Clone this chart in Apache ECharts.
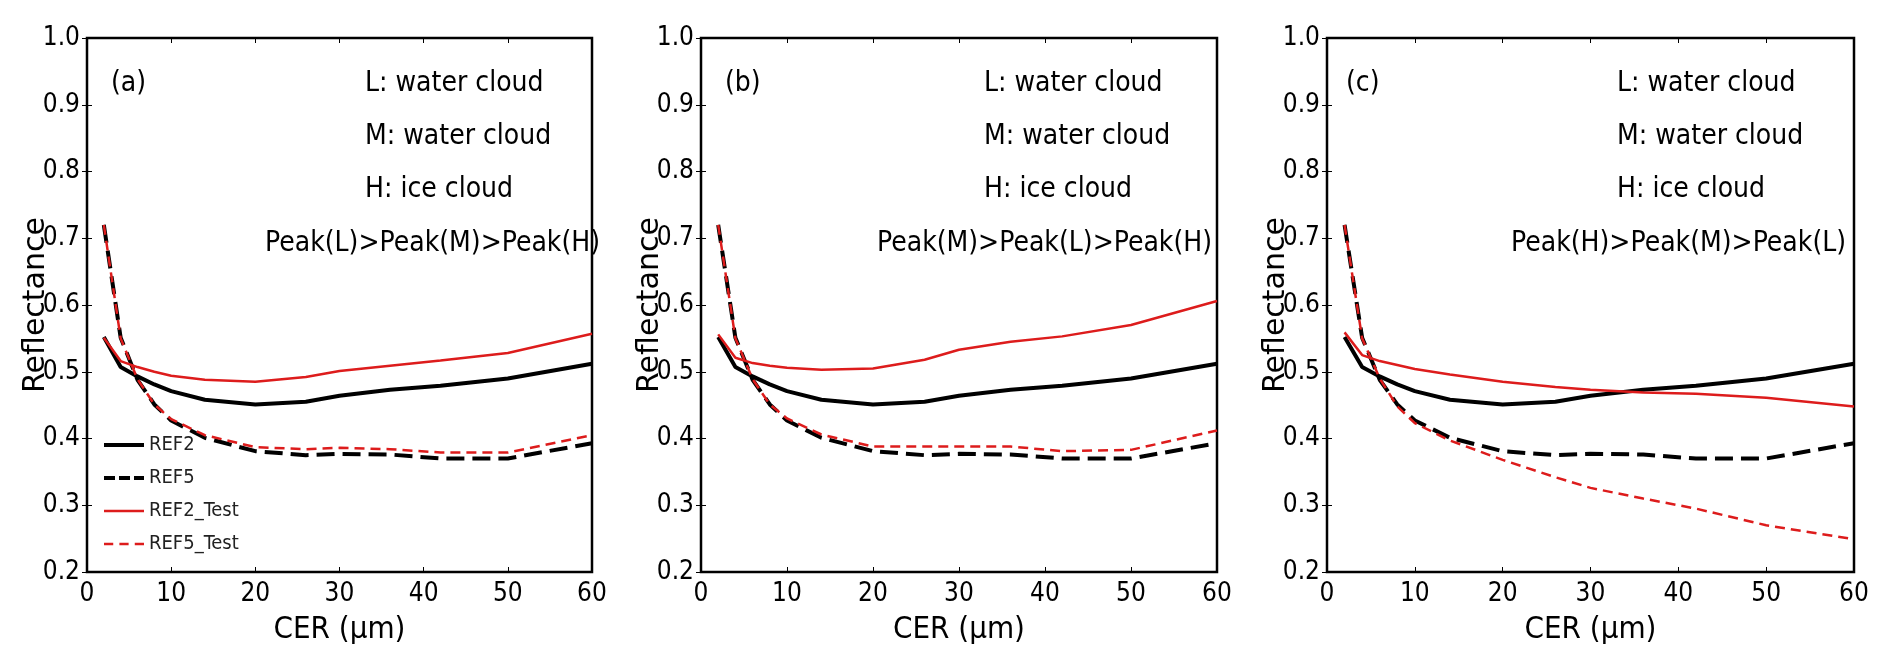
<!DOCTYPE html>
<html>
<head>
<meta charset="utf-8">
<script src="https://cdn.jsdelivr.net/npm/echarts@6/dist/echarts.min.js"></script>
<style>html,body{margin:0;padding:0;background:#fff;}#chart{width:1892px;height:671px;}</style>
</head>
<body>
<div id="chart"></div>
<script>
// ---- data ----
var cer = [2, 4, 6, 8, 10, 14, 20, 26, 30, 36, 42, 50, 60];
var ref2 = [0.552, 0.507, 0.493, 0.481, 0.471, 0.458, 0.451, 0.455, 0.464, 0.473, 0.479, 0.490, 0.512];
var ref5 = [0.720, 0.551, 0.488, 0.451, 0.427, 0.401, 0.381, 0.375, 0.377, 0.376, 0.370, 0.370, 0.393];
var ref2TestA = [0.551, 0.516, 0.507, 0.500, 0.494, 0.488, 0.485, 0.492, 0.501, 0.509, 0.517, 0.528, 0.557];
var ref5TestA = [0.720, 0.550, 0.489, 0.451, 0.429, 0.405, 0.387, 0.384, 0.386, 0.384, 0.379, 0.379, 0.405];
var ref2TestB = [0.556, 0.521, 0.513, 0.509, 0.506, 0.503, 0.505, 0.518, 0.533, 0.545, 0.553, 0.570, 0.606];
var ref5TestB = [0.720, 0.550, 0.489, 0.451, 0.430, 0.406, 0.388, 0.388, 0.388, 0.388, 0.381, 0.383, 0.412];
var ref2TestC = [0.559, 0.525, 0.516, 0.510, 0.504, 0.496, 0.485, 0.477, 0.473, 0.469, 0.467, 0.461, 0.448];
var ref5TestC = [0.720, 0.550, 0.490, 0.448, 0.423, 0.397, 0.368, 0.342, 0.326, 0.310, 0.295, 0.270, 0.249];
var panelLabels = ['(a)', '(b)', '(c)'];
var cloudLines = ['L: water cloud', 'M: water cloud', 'H: ice cloud'];
var peakLines = ['Peak(L)>Peak(M)>Peak(H)', 'Peak(M)>Peak(L)>Peak(H)', 'Peak(H)>Peak(M)>Peak(L)'];
var seriesNames = ['REF2', 'REF5', 'REF2_Test', 'REF5_Test'];

// ---- layout / style ----
var NF = "'DejaVu Sans Condensed','DejaVu Sans',sans-serif";
var BLACK = '#000', RED = '#dd1c1c';
var grids = [
  {left: 87, top: 38, width: 505, height: 534},
  {left: 701, top: 38, width: 516, height: 534},
  {left: 1327, top: 38, width: 527, height: 534}
];
var tests = [[ref2TestA, ref5TestA], [ref2TestB, ref5TestB], [ref2TestC, ref5TestC]];
var legendIcons = [
  'path://M0,0H40V4H0Z',
  'path://M0,0H11V4H0Z M15,0H26V4H15Z M30,0H40V4H30Z',
  'path://M0,0H40V2.5H0Z',
  'path://M0,0H9V2.5H0Z M15,0H24V2.5H15Z M30,0H39V2.5H30Z'
];

function pairs(ys) { return cer.map(function (c, i) { return [c, ys[i]]; }); }

var tick = {show: true, inside: true, length: 5, lineStyle: {color: '#000', width: 1}};
var xAxes = [], yAxes = [], series = [], graphics = [];
grids.forEach(function (g, k) {
  g.show = true; g.borderColor = '#000'; g.borderWidth = 2.5; g.containLabel = false;
  xAxes.push({
    gridIndex: k, type: 'value', min: 0, max: 60, interval: 10,
    name: 'CER (\u00b5m)', nameLocation: 'middle', nameGap: 42, nameMoveOverlap: false,
    nameTextStyle: {fontFamily: NF, fontSize: 31, color: '#000'},
    axisLine: {show: false}, splitLine: {show: false}, axisTick: tick,
    axisLabel: {fontFamily: NF, fontSize: 26, color: '#000', margin: 9}
  });
  xAxes.push({
    gridIndex: k, type: 'value', position: 'top', min: 0, max: 60, interval: 10,
    axisLine: {show: false}, splitLine: {show: false}, axisLabel: {show: false}, axisTick: tick
  });
  yAxes.push({
    gridIndex: k, type: 'value', min: 0.2, max: 1.0, interval: 0.1,
    name: 'Reflectance', nameLocation: 'middle', nameGap: 36, nameRotate: 90, nameMoveOverlap: false,
    nameTextStyle: {fontFamily: "'DejaVu Sans',sans-serif", fontSize: 30, color: '#000'},
    axisLine: {show: false}, splitLine: {show: false}, axisTick: tick,
    axisLabel: {fontFamily: NF, fontSize: 26, color: '#000', margin: 7,
      formatter: function (v) { return v.toFixed(1); }}
  });
  yAxes.push({
    gridIndex: k, type: 'value', position: 'right', min: 0.2, max: 1.0, interval: 0.1,
    axisLine: {show: false}, splitLine: {show: false}, axisLabel: {show: false}, axisTick: tick
  });
  var xi = 2 * k, yi = 2 * k;
  var sets = [
    {name: seriesNames[0], d: ref2, color: BLACK, w: 4, type: 'solid'},
    {name: seriesNames[1], d: ref5, color: BLACK, w: 4, type: [18, 8]},
    {name: seriesNames[2], d: tests[k][0], color: RED, w: 2.5, type: 'solid'},
    {name: seriesNames[3], d: tests[k][1], color: RED, w: 2.5, type: [10, 6]}
  ];
  sets.forEach(function (s) {
    series.push({
      name: s.name, type: 'line', xAxisIndex: xi, yAxisIndex: yi,
      data: pairs(s.d), showSymbol: false, symbol: 'none', smooth: false, animation: false,
      lineStyle: {color: s.color, width: s.w, type: s.type}, itemStyle: {color: s.color}, z: 3
    });
  });
  var fs = {fontFamily: NF, fontSize: 28, fill: '#000'};
  var off = [278, 283, 290][k], poff = [178, 176, 184][k], loff = [24, 24, 19][k];
  graphics.push({type: 'text', left: g.left + loff, top: 87 - 17,
    style: Object.assign({text: panelLabels[k]}, fs)});
  cloudLines.forEach(function (t, j) {
    graphics.push({type: 'text', left: g.left + off, top: [87, 140, 193][j] - 17,
      style: Object.assign({text: t}, fs)});
  });
  graphics.push({type: 'text', left: g.left + poff, top: 247 - 17,
    style: Object.assign({text: peakLines[k]}, fs)});
});

var chart = echarts.init(document.getElementById('chart'));
chart.setOption({
  animation: false,
  backgroundColor: '#fff',
  grid: grids,
  xAxis: xAxes,
  yAxis: yAxes,
  legend: {
    data: seriesNames.map(function (n, i) {
      return {name: n, icon: legendIcons[i], itemStyle: {color: i < 2 ? BLACK : RED, borderWidth: 0}};
    }),
    orient: 'vertical', left: 99, top: 430,
    itemWidth: 40, itemHeight: 14, itemGap: 13,
    textStyle: {fontFamily: NF, fontSize: 20, color: '#222'},
    selectedMode: false
  },
  graphic: graphics,
  series: series
});
</script>
</body>
</html>
